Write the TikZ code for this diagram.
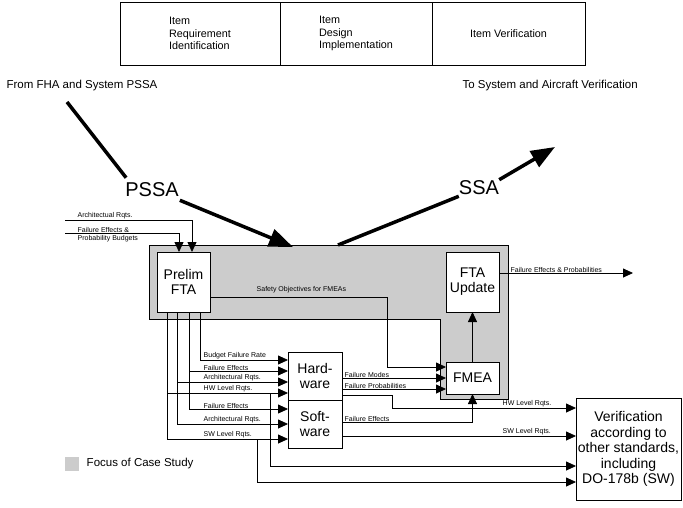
\documentclass[tikz,border=0pt]{standalone}
\usepackage{fontspec}
\setmainfont{Liberation Sans}
\usetikzlibrary{arrows.meta,positioning}
\definecolor{focus}{gray}{.8}
\newcommand\lblfont{\fontsize{7}{7.5}\selectfont}
\newcommand\boxfont{\fontsize{14}{15}\selectfont}
\newcommand\cellfont{\fontsize{10.8}{12.5}\selectfont}
\newcommand\notefont{\fontsize{11.5}{13}\selectfont}
\newcommand\phasefont{\fontsize{20}{22}\selectfont}

\begin{document}
\begin{tikzpicture}[x=1pt,y=-1pt,
  box/.style={draw, fill=white, line width=.8pt, align=center, inner sep=0pt, outer sep=0pt, font=\boxfont},
  cell/.style={box, font=\cellfont, align=left, minimum height=63, anchor=north west},
  lbl/.style={font=\lblfont, inner sep=.5pt, anchor=south west},
  flow/.style={line width=.8pt, -{Triangle[length=10pt,width=9pt]}},
  bigflow/.style={line width=3.5pt, -{Triangle[length=24pt,width=18pt]}}]
\useasboundingbox (0,0) rectangle (683,507);

% phases
\node[cell, minimum width=160] (req) at (120,2) {Item\\Requirement\\Identification};
\node[cell, minimum width=152] (des) at (req.north east) {Item\\Design\\Implementation};
\node[cell, minimum width=153, align=center] (itv) at (des.north east) {Item Verification};

\node[font=\notefont, anchor=west] (from) at (3,86) {From FHA and System PSSA};
\node[font=\notefont, anchor=west] (to) at (459,86) {To System and Aircraft Verification};

% focus of the case study
\draw[fill=focus, line width=.8pt] (149,245) -- (508,245) -- (508,399) -- (440,399) -- (440,319) -- (149,319) -- cycle;

\coordinate (pssafrom) at (67,102);
\coordinate (pssato) at (293,247);
\coordinate (ssafrom) at (338,245);
\coordinate (ssato) at (555,147);
\node[font=\phasefont, inner sep=2pt] (pssa) at (152,190) {PSSA};
\node[font=\phasefont, inner sep=2pt] (ssa) at (479,188) {SSA};
\draw[line width=3.5pt] (pssafrom) -- ([shift={(3,-3)}]pssa.north west);
\draw[bigflow] ([shift={(-1,1)}]pssa.south east) -- (pssato);
\draw[line width=3.5pt] (ssafrom) -- ([shift={(2,-1)}]ssa.south west);
\draw[bigflow] ([shift={(-2,1)}]ssa.north east) -- (ssato);

\node[box, minimum width=53, minimum height=60] (prelim) at (183.5,282) {Prelim\\FTA};
\node[box, minimum width=53, minimum height=60] (ftaup) at (472.5,282) {FTA\\Update};
\node[box, minimum width=53, minimum height=32] (fmea) at (472.5,378) {FMEA};
\node[box, minimum width=54, minimum height=48] (hw) at (315,376) {Hard-\\ware};
\node[box, minimum width=54, minimum height=48, below=0pt of hw] (sw) {Soft-\\ware};
\node[box, minimum width=105, minimum height=102, font=\fontsize{14}{15.5}\selectfont] (verif) at (628.5,449) {Verification\\according to\\other standards,\\including\\DO-178b (SW)};

% inputs to the preliminary FTA
\coordinate (archin) at (65,220);
\coordinate (budgin) at (65,233);
\draw[flow] (archin) -| ([xshift=8.5pt]prelim.north);
\draw[flow] (budgin) -| ([xshift=-4.5pt]prelim.north);
\path (archin) node[lbl, xshift=12pt] {Architectual Rqts.};
\path (budgin) node[lbl, xshift=12pt] {Failure Effects \&}
  node[lbl, anchor=north west, xshift=12pt, yshift=-2pt] {Probability Budgets};

% taps below Prelim FTA
\coordinate (tapA) at ([xshift=16.5pt]prelim.south);
\coordinate (tapB) at ([xshift=5.5pt]prelim.south);
\coordinate (tapC) at ([xshift=-6.5pt]prelim.south);
\coordinate (tapD) at ([xshift=-16.5pt]prelim.south);
\coordinate (hwA) at ([yshift=16pt]hw.west);
\coordinate (hwB) at ([yshift=5pt]hw.west);
\coordinate (hwC) at ([yshift=-6pt]hw.west);
\coordinate (hwD) at ([yshift=-17pt]hw.west);
\coordinate (swB) at ([yshift=15pt]sw.west);
\coordinate (swC) at (sw.west);
\coordinate (swD) at ([yshift=-15pt]sw.west);

\draw[flow] (tapA) |- (hwA);
\draw[flow] (tapB) |- (swB);
\draw[flow] (tapB |- hwB) -- (hwB);
\draw[flow] (tapC) |- (swC);
\draw[flow] (tapC |- hwC) -- (hwC);
\draw[flow] (tapD) |- (swD);
\draw[flow] (tapD |- hwD) -- (hwD);

\path (tapA |- hwA) node[lbl, xshift=3pt] {Budget Failure Rate};
\path (tapA |- hwB) node[lbl, xshift=3pt] {Failure Effects};
\path (tapA |- hwC) node[lbl, xshift=3pt] {Architectural Rqts.};
\path (tapA |- hwD) node[lbl, xshift=3pt] {HW Level Rqts.};
\path (tapA |- swB) node[lbl, xshift=3pt] {Failure Effects};
\path (tapA |- swC) node[lbl, xshift=3pt] {Architectural Rqts.};
\path (tapA |- swD) node[lbl, xshift=3pt] {SW Level Rqts.};

% to verification
\coordinate (verA) at ([yshift=41pt]verif.west);
\coordinate (verB) at ([yshift=13pt]verif.west);
\coordinate (verC) at ([yshift=-17pt]verif.west);
\coordinate (verD) at ([yshift=-33pt]verif.west);
\draw[flow] ([xshift=-18pt]hwD) |- (verC);
\draw[flow] ([xshift=-31pt]swD) |- (verD);

% FMEA
\coordinate (fmA) at ([yshift=11pt]fmea.west);
\coordinate (fmB) at (fmea.west);
\coordinate (fmC) at ([yshift=-11pt]fmea.west);
\draw[flow] ([yshift=-15pt]prelim.east) -| ([xshift=-59pt]fmA) -- (fmA);
\path ([yshift=-15pt]prelim.east) node[lbl, xshift=46pt, yshift=3pt] {Safety Objectives for FMEAs};
\draw[flow] (hw.east |- fmB) -- (fmB);
\draw[flow] (hw.east |- fmC) -- (fmC);
\path (hw.east |- fmB) node[lbl, xshift=2pt] {Failure Modes};
\path (hw.east |- fmC) node[lbl, xshift=2pt] {Failure Probabilities};
\draw[flow] ([yshift=-19pt]hw.east) -| ([xshift=-184pt]verA) -- (verA);
\path (verA) node[lbl, xshift=-74pt] {HW Level Rqts.};
\draw[flow] ([yshift=2pt]sw.east) -| (fmea.south);
\path ([yshift=2pt]sw.east) node[lbl, xshift=2pt] {Failure Effects};
\draw[flow] (sw.east |- verB) -- (verB);
\path (verB) node[lbl, xshift=-74pt] {SW Level Rqts.};

\draw[flow] (fmea) -- (ftaup);
\coordinate (feout) at ([xshift=134pt,yshift=9pt]ftaup.east);
\draw[flow] ([yshift=9pt]ftaup.east) -- (feout);
\path ([yshift=9pt]ftaup.east) node[lbl, xshift=11pt] {Failure Effects \& Probabilities};

% legend
\node[fill=focus, minimum size=14pt, inner sep=0pt] (key) at (72,464) {};
\node[font=\notefont, right=4pt of key] (keytext) {Focus of Case Study};
\end{tikzpicture}
\end{document}
